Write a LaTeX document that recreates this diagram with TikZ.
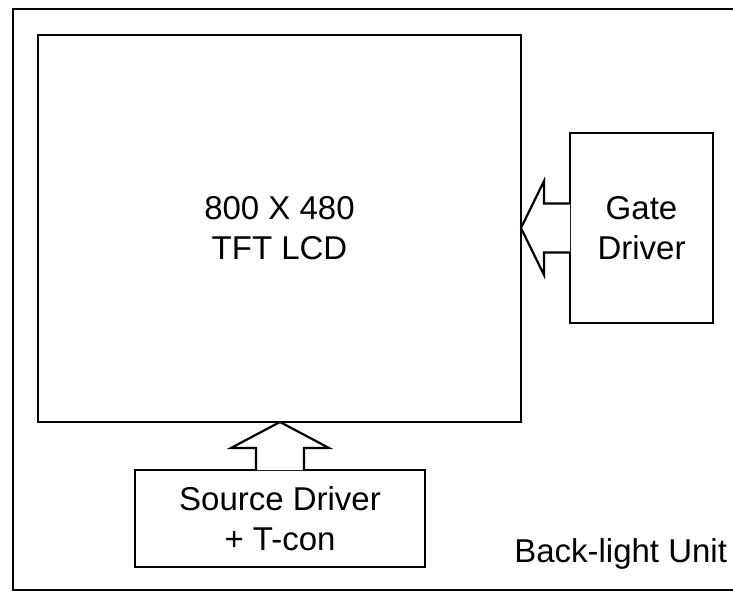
\documentclass[tikz,border=0pt]{standalone}
\usepackage{fontspec}
\setmainfont{Liberation Sans}
\usetikzlibrary{calc}

\begin{document}
\begin{tikzpicture}[x=1pt,y=-1pt,line width=2.2pt,
  blk/.style={draw,inner sep=0pt,outer sep=0pt,align=center,font=\fontsize{33}{40}\selectfont},
  fat/.style={draw,fill=white,line join=miter}]
\clip (0,0) rectangle (733,593);
\draw (13,9) rectangle (760,590);
\node[blk,minimum width=483pt,minimum height=387pt] (lcd) at (279.5,228.5) {800 X 480\\TFT LCD};
\node[blk,minimum width=143pt,minimum height=190pt] (gate) at (641.5,228) {Gate\\Driver};
\node[blk,minimum width=290pt,minimum height=97pt] (src) at (280,518.5) {Source Driver\\+ T-con};
\node[blk,draw=none,anchor=base east] (blu) at (727,562) {Back-light Unit};
% block arrows into the panel
\draw[fat] ($(gate.west)+(0,-24.5)$) -- ++(-26,0) -- ++(0,-22.5) -- (lcd.east |- gate.west)
  -- ++(23,47) -- ++(0,-22.5) -- ($(gate.west)+(0,24.5)$);
\draw[fat] ($(src.north)+(-24,0)$) -- ++(0,-22) -- ++(-25,0) -- (src.north |- lcd.south)
  -- ++(49,26) -- ++(-25,0) -- ($(src.north)+(24,0)$);
\end{tikzpicture}
\end{document}
